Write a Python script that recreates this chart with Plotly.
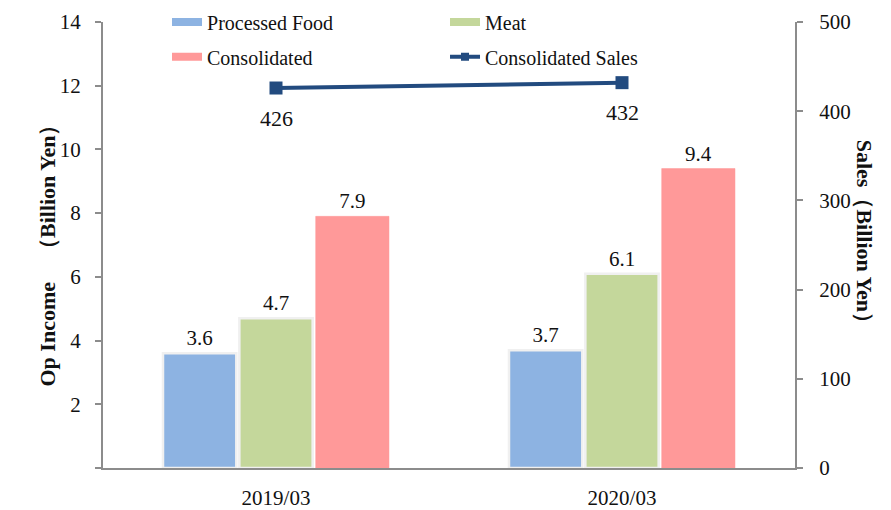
import plotly.graph_objects as go

categories = ["2019/03", "2020/03"]
processed_food = [3.6, 3.7]
meat = [4.7, 6.1]
consolidated = [7.9, 9.4]
consolidated_sales = [426, 432]
left_ticks = [0, 2, 4, 6, 8, 10, 12, 14]
right_ticks = [0, 100, 200, 300, 400, 500]

FONT = "Liberation Serif"
BLUE = "#8db3e2"
GREEN = "#c4d79b"
RED = "#ff9999"
NAVY = "#224b7f"
AXIS = "#8c8c8c"
OUTLINE = "#f0f0f0"
TXT = "#111111"

fig = go.Figure()

for name, vals, col, olw in [("Processed Food", processed_food, BLUE, 2.5),
                             ("Meat", meat, GREEN, 2.5),
                             ("Consolidated", consolidated, RED, 0.5)]:
    fig.add_trace(go.Bar(
        x=categories, y=vals, name=name,
        marker=dict(color=col, line=dict(color=OUTLINE if olw > 1 else col, width=olw)),
        text=[f"{v:.1f}" for v in vals], textposition="outside",
        textfont=dict(family=FONT, size=21, color=TXT),
        cliponaxis=False, showlegend=False, yaxis="y"))

fig.add_trace(go.Scatter(
    x=categories, y=consolidated_sales, name="Consolidated Sales", yaxis="y2",
    mode="lines+markers", line=dict(color=NAVY, width=4),
    marker=dict(symbol="square", size=13, color=NAVY),
    showlegend=False))

# legend entries
for name, col, lg in [("Processed Food", BLUE, "legend"), ("Meat", GREEN, "legend"),
                      ("Consolidated", RED, "legend2")]:
    fig.add_trace(go.Scatter(x=[None], y=[None], mode="lines", name=name,
                             line=dict(color=col, width=8), legend=lg))
fig.add_trace(go.Scatter(x=[None], y=[None], mode="lines+markers", name="Consolidated Sales",
                         line=dict(color=NAVY, width=4),
                         marker=dict(symbol="square", size=8, color=NAVY), legend="legend2"))

for c, s in zip(categories, consolidated_sales):
    fig.add_annotation(x=c, y=s, xref="x", yref="y2", text=str(s), showarrow=False,
                       yshift=-30, font=dict(family=FONT, size=22, color=TXT))

fig.add_annotation(x=-0.101, y=0.489, xref="paper", yref="paper", text="<b>Op Income　（Billion Yen）</b>",
                   showarrow=False, textangle=-90, font=dict(family=FONT, size=22, color=TXT))
fig.add_annotation(x=1.121, y=0.518, xref="paper", yref="paper", text="<b>Sales（Billion Yen）</b>",
                   showarrow=False, textangle=90, font=dict(family=FONT, size=22, color=TXT))

leg_common = dict(orientation="h", xanchor="left", yanchor="middle", entrywidth=233,
                  entrywidthmode="pixels", font=dict(family=FONT, size=20, color=TXT),
                  bgcolor="rgba(0,0,0,0)", borderwidth=0)

fig.update_layout(
    width=883, height=502,
    margin=dict(l=95, r=96, t=14, b=42, autoexpand=False),
    paper_bgcolor="white", plot_bgcolor="white",
    barmode="group", bargap=0.338, bargroupgap=0.04,
    font=dict(family=FONT, size=20, color=TXT),
    xaxis=dict(showline=True, linecolor=AXIS, linewidth=2, ticks="", showgrid=False,
               tickfont=dict(family=FONT, size=21, color=TXT), ticklabelstandoff=10),
    yaxis=dict(range=[0, 14], tickvals=left_ticks,
               ticktext=["" if v == 0 else str(v) for v in left_ticks],
               showline=True, linecolor=AXIS, linewidth=2, ticks="outside", ticklen=6,
               tickcolor=AXIS, tickwidth=2, showgrid=False, zeroline=False,
               tickfont=dict(family=FONT, size=21, color=TXT), ticklabelstandoff=10),
    yaxis2=dict(range=[0, 500], tickvals=right_ticks, overlaying="y", side="right",
                showline=True, linecolor=AXIS, linewidth=2, ticks="outside", ticklen=6,
                tickcolor=AXIS, tickwidth=2, showgrid=False, zeroline=False,
                tickfont=dict(family=FONT, size=21, color=TXT), ticklabelstandoff=12),
    legend=dict(x=0.0925, y=1.0, **leg_common),
    legend2=dict(x=0.0925, y=0.922, **leg_common),
)

fig.write_html("out.html")
